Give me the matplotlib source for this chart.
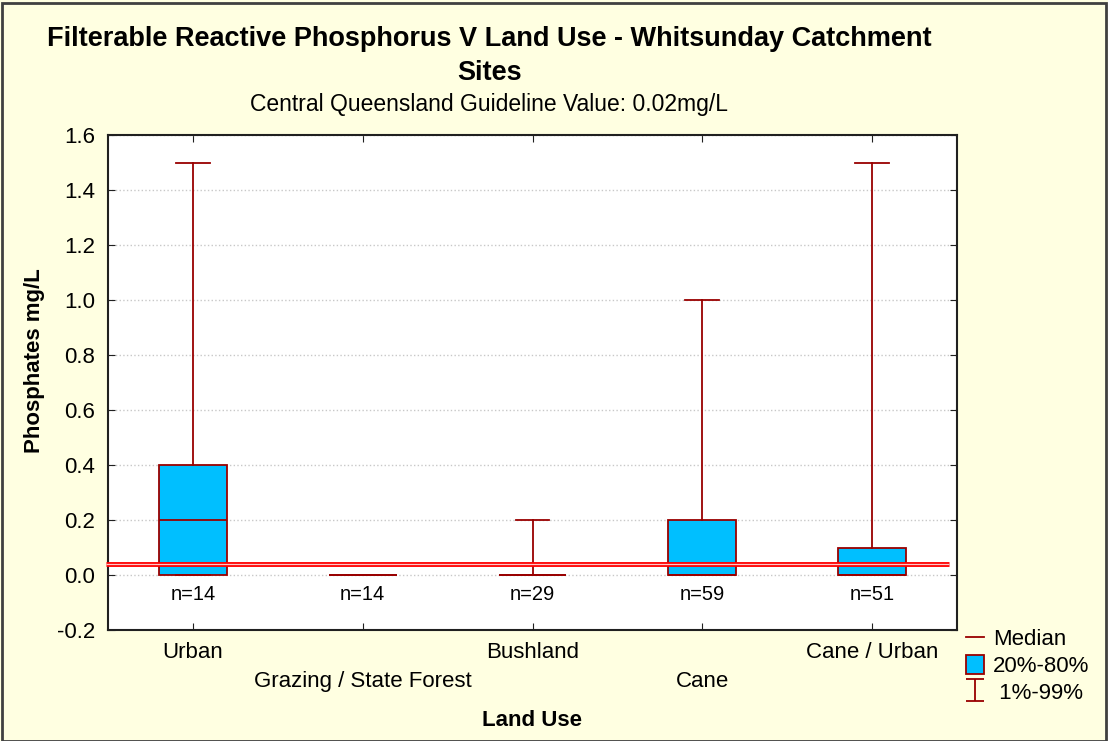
import matplotlib
matplotlib.use('Agg')
import matplotlib.pyplot as plt
from matplotlib.lines import Line2D
from matplotlib.patches import Patch, Rectangle
from matplotlib.path import Path

plt.rcParams['font.family'] = ['Liberation Sans', 'DejaVu Sans']

# data
land_use = ['Urban', 'Grazing / State Forest', 'Bushland', 'Cane', 'Cane / Urban']
n_samples = [14, 14, 29, 59, 51]
p01 = [0.0, 0.0, 0.0, 0.0, 0.0]
p20 = [0.0, 0.0, 0.0, 0.0, 0.0]
median = [0.2, 0.0, 0.0, 0.0, 0.0]
p80 = [0.4, 0.0, 0.0, 0.2, 0.1]
p99 = [1.5, 0.0, 0.2, 1.0, 1.5]
guideline = 0.04
y_ticks = [-0.2, 0.0, 0.2, 0.4, 0.6, 0.8, 1.0, 1.2, 1.4, 1.6]

bg = '#FFFFE1'
box_fill = '#00BFFF'
edge = '#990000'
W, H = 1108, 741

fig = plt.figure(figsize=(W / 100, H / 100), dpi=100, facecolor=bg)
fig.patches.append(Rectangle((0.002, 0.0), 0.996, 0.996, transform=fig.transFigure,
                             fill=False, edgecolor='#404040', linewidth=2))
ax = fig.add_axes([108 / W, 1 - 630 / H, 849 / W, 495 / H])
ax.set_facecolor('white')

stats = []
for i in range(len(land_use)):
    stats.append({'whislo': p01[i], 'q1': p20[i], 'med': median[i],
                  'q3': p80[i], 'whishi': p99[i], 'fliers': []})
pos = list(range(1, len(land_use) + 1))
ax.bxp(stats, positions=pos, widths=0.4, capwidths=0.2, patch_artist=True,
       showfliers=False,
       boxprops=dict(facecolor=box_fill, edgecolor=edge, linewidth=1.3),
       medianprops=dict(color=edge, linewidth=1.3),
       whiskerprops=dict(color=edge, linewidth=1.3),
       capprops=dict(color=edge, linewidth=1.3), zorder=3)

# guideline (double red line)
ax.plot([0.49, 5.45], [guideline, guideline], color='#FF0000', linewidth=3.5, zorder=4,
        solid_capstyle='butt', clip_on=False)
ax.plot([0.49, 5.45], [guideline, guideline], color='#FFC8C8', linewidth=0.9, zorder=5,
        solid_capstyle='butt', clip_on=False)

for p, n in zip(pos, n_samples):
    ax.text(p, -0.07, 'n=%d' % n, ha='center', va='center', fontsize=14.5, zorder=6)

ax.set_xlim(0.5, 5.5)
ax.set_ylim(-0.2, 1.6)
ax.set_yticks(y_ticks)
ax.set_yticklabels(['%.1f' % v for v in y_ticks], fontsize=16)
ax.set_xticks(pos)
ax.set_xticklabels([('\n' + s) if i % 2 else s for i, s in enumerate(land_use)],
                   fontsize=16, linespacing=1.45)
ax.tick_params(axis='both', direction='in', length=5, top=True, right=True, color='#202020')
ax.tick_params(axis='x', pad=9)
ax.tick_params(axis='y', pad=9.5)
ax.grid(axis='y', color='#C8C8C8', linestyle=':', linewidth=1, zorder=0)
for s in ax.spines.values():
    s.set_color('#202020')
    s.set_linewidth(1.5)

ax.set_xlabel('Land Use', fontsize=16, fontweight='bold')
ax.xaxis.set_label_coords(0.5, -0.162)
ax.set_ylabel('Phosphates mg/L', fontsize=16, fontweight='bold')
ax.yaxis.set_label_coords(-0.074, 0.545)

fig.text(489.5 / W, 1 - 46 / H,
         'Filterable Reactive Phosphorus V Land Use - Whitsunday Catchment',
         ha='center', va='baseline', fontsize=19.5, fontweight='bold')
fig.text(489.5 / W, 1 - 80 / H, 'Sites',
         ha='center', va='baseline', fontsize=19.5, fontweight='bold')
fig.text(489.5 / W, 1 - 111 / H, 'Central Queensland Guideline Value: 0.02mg/L',
         ha='center', va='baseline', fontsize=16.5)

ibeam = Path([(-0.82, -1), (0.82, -1), (0, -1), (0, 1), (-0.82, 1), (0.82, 1)],
             [Path.MOVETO, Path.LINETO, Path.MOVETO, Path.LINETO, Path.MOVETO, Path.LINETO])
handles = [Line2D([], [], color=edge, linewidth=1.3),
           Patch(facecolor=box_fill, edgecolor=edge, linewidth=1.3),
           Line2D([], [], linestyle='none', marker=ibeam, markersize=16,
                  markerfacecolor='none', markeredgecolor=edge, markeredgewidth=1.3)]
fig.legend(handles, ['Median', '20%-80%', ' 1%-99%'], loc='upper left',
           bbox_to_anchor=(966 / W, 1 - 628 / H), frameon=False, fontsize=16,
           handlelength=0.82, handleheight=0.95, handletextpad=0.4, labelspacing=0.2,
           borderaxespad=0, borderpad=0)

fig.savefig('out.png', dpi=100, facecolor=bg)
